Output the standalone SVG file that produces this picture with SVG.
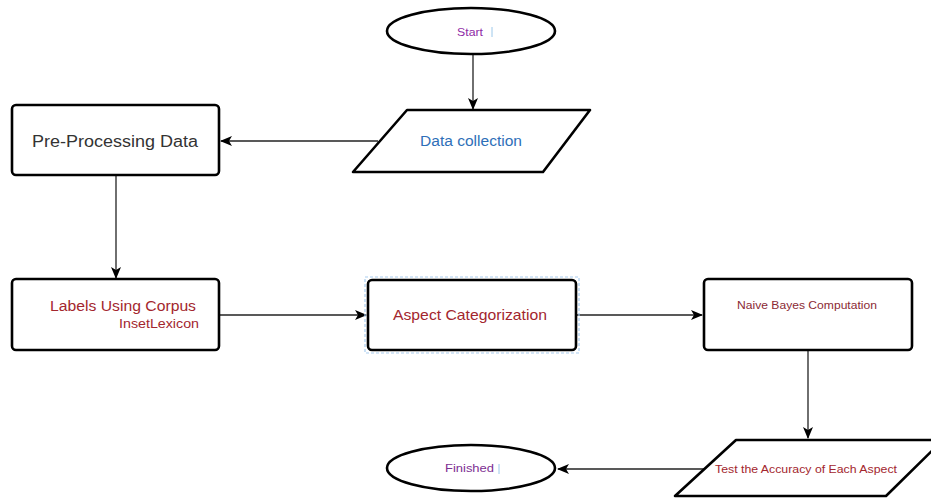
<svg xmlns="http://www.w3.org/2000/svg" width="931" height="498" viewBox="0 0 931 498">
<defs>
<marker id="arr" viewBox="0 0 12 10" refX="11" refY="5" markerWidth="12" markerHeight="10" markerUnits="userSpaceOnUse" orient="auto">
<path d="M0,0 L12,5 L0,10 L3,5 Z" fill="#000"/>
</marker>
<style>
.shape{fill:#fff;stroke:#000;stroke-width:2.6;stroke-linejoin:round}
.conn{fill:none;stroke:#222;stroke-width:1.3;marker-end:url(#arr)}
text{font-family:"Liberation Sans",Arial,sans-serif;text-anchor:middle;dominant-baseline:central}
.red{fill:#a3262e}
.purple{fill:#8f2aa6}
</style>
</defs>
<rect width="931" height="498" fill="#fff"/>
<g id="connectors">
<line class="conn" x1="473" y1="54" x2="473" y2="109"/>
<line class="conn" x1="378" y1="141" x2="221" y2="141"/>
<line class="conn" x1="116" y1="176" x2="116" y2="278"/>
<line class="conn" x1="219" y1="315" x2="366" y2="315"/>
<line class="conn" x1="576" y1="315" x2="702" y2="315"/>
<line class="conn" x1="808" y1="350" x2="808" y2="438"/>
<line class="conn" x1="704" y1="469" x2="558" y2="469"/>
</g>
<g id="start">
<ellipse class="shape" cx="471" cy="31" rx="84" ry="23"/>
<text x="470" y="32" font-size="10.5" class="purple" textLength="26" lengthAdjust="spacingAndGlyphs">Start</text>
<line x1="492" y1="27" x2="492" y2="37" stroke="#9cc8ea" stroke-width="1"/>
</g>
<g id="data-collection">
<path class="shape" d="M407,110 L590,110 L543,172 L353,172 Z"/>
<text x="471" y="141" font-size="14" fill="#2e6fb8" textLength="102" lengthAdjust="spacingAndGlyphs">Data collection</text>
</g>
<g id="pre-processing">
<rect class="shape" x="12" y="105" width="207" height="70" rx="4"/>
<text x="115" y="141" font-size="16" fill="#333" textLength="166" lengthAdjust="spacingAndGlyphs">Pre-Processing Data</text>
</g>
<g id="labels">
<rect class="shape" x="12" y="279" width="207" height="71" rx="4"/>
<text x="123" y="306" font-size="14" class="red" textLength="146" lengthAdjust="spacingAndGlyphs">Labels Using Corpus</text>
<text x="159" y="323" font-size="13.5" class="red" textLength="80" lengthAdjust="spacingAndGlyphs">InsetLexicon</text>
</g>
<g id="aspect">
<rect x="365" y="277" width="214" height="76" fill="none" stroke="#a9cdf0" stroke-width="1.2" stroke-dasharray="3,2"/>
<rect class="shape" x="368" y="280" width="208" height="70" rx="4"/>
<text x="470" y="315" font-size="14.5" class="red" textLength="154" lengthAdjust="spacingAndGlyphs">Aspect Categorization</text>
</g>
<g id="naive-bayes">
<rect class="shape" x="704" y="279" width="208" height="71" rx="4"/>
<text x="807" y="305" font-size="11.5" fill="#8b2a35" textLength="140" lengthAdjust="spacingAndGlyphs">Naive Bayes Computation</text>
</g>
<g id="test-accuracy">
<path class="shape" d="M736,440 L943,440 L886,496 L675,496 Z"/>
<text x="806" y="469" font-size="11.5" class="red" textLength="182" lengthAdjust="spacingAndGlyphs">Test the Accuracy of Each Aspect</text>
</g>
<g id="finished">
<ellipse class="shape" cx="471" cy="468" rx="84" ry="23"/>
<text x="469.5" y="468" font-size="11.5" fill="#7d2e92" textLength="49" lengthAdjust="spacingAndGlyphs">Finished</text>
<line x1="499" y1="464" x2="499" y2="474" stroke="#9cc8ea" stroke-width="1"/>
</g>
</svg>
